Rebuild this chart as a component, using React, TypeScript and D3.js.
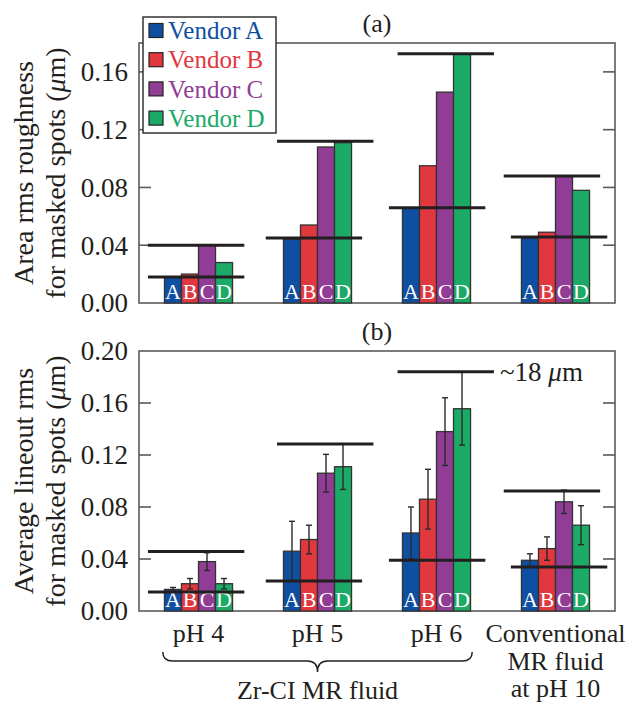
import React, { useRef, useEffect } from "react";
import * as d3 from "d3";

const groups = ["pH 4", "pH 5", "pH 6", "Conventional"];
const vendors = ["Vendor A", "Vendor B", "Vendor C", "Vendor D"];
const letters = ["A", "B", "C", "D"];
const colors = ["#0f4fa2", "#e1383f", "#913d95", "#1bab66"];

// (a) area rms roughness, one row per group, vendors A..D
const areaRms = [
  [0.018, 0.02, 0.04, 0.028],
  [0.044, 0.054, 0.108, 0.111],
  [0.066, 0.095, 0.146, 0.1725],
  [0.045, 0.049, 0.088, 0.078],
];
const areaHigh = [0.04, 0.112, 0.1725, 0.088];
const areaLow = [0.018, 0.045, 0.066, 0.0457];
const areaTicks = [0, 0.04, 0.08, 0.12, 0.16];

// (b) average lineout rms with error bars
const lineoutRms = [
  [0.0166, 0.021, 0.038, 0.021],
  [0.046, 0.055, 0.106, 0.111],
  [0.06, 0.086, 0.138, 0.1556],
  [0.039, 0.048, 0.084, 0.066],
];
const lineoutErr = [
  [0.0015, 0.004, 0.0068, 0.004],
  [0.023, 0.011, 0.0145, 0.0175],
  [0.02, 0.023, 0.026, 0.028],
  [0.005, 0.009, 0.009, 0.015],
];
const lineoutHigh = [0.0458, 0.1285, 0.184, 0.0924];
const lineoutLow = [0.0146, 0.023, 0.039, 0.0338];
const lineoutTicks = [0, 0.04, 0.08, 0.12, 0.16, 0.2];

const W = 632;
const H = 704;
const FONT = "'Liberation Serif', 'Times New Roman', serif";
const INK = "#231f20";

function App() {
  const ref = useRef<SVGSVGElement>(null);

  useEffect(() => {
    const svg = d3.select(ref.current);
    svg.selectAll("*").remove();

    const left = 139;
    const right = 615;
    const x = d3.scaleBand<number>().domain(d3.range(groups.length)).range([left, right]);
    const bw = x.bandwidth();
    const inner = d3
      .scaleBand<string>()
      .domain(letters)
      .range([bw * 0.214, bw * 0.786]);

    // threshold lines are a bit off-centre in the original
    const highShift = [-0.02, 0.065, 0.078, -0.03];
    const lowShift = [-0.02, -0.03, 0.005, 0.03];
    const lineLen = bw * 0.81;

    function panel(
      top: number,
      bottom: number,
      ymax: number,
      values: number[][],
      errs: number[][] | null,
      high: number[],
      low: number[],
      ticks: number[],
      title: string[],
      tag: string
    ) {
      const y = d3.scaleLinear().domain([0, ymax]).range([bottom, top]);
      const g = svg.append("g");

      // frame
      g.append("rect")
        .attr("x", left)
        .attr("y", top)
        .attr("width", right - left)
        .attr("height", bottom - top)
        .attr("fill", "none")
        .attr("stroke", "#5a5a5a")
        .attr("stroke-width", 1.6);

      ticks.forEach((t) => {
        if (t > 0 && y(t) > top + 2) {
          g.append("line")
            .attr("x1", left)
            .attr("x2", left + 12)
            .attr("y1", y(t))
            .attr("y2", y(t))
            .attr("stroke", "#5a5a5a")
            .attr("stroke-width", 1.6);
          g.append("line")
            .attr("x1", right - 12)
            .attr("x2", right)
            .attr("y1", y(t))
            .attr("y2", y(t))
            .attr("stroke", "#5a5a5a")
            .attr("stroke-width", 1.6);
        }
        g.append("text")
          .text(t.toFixed(2))
          .attr("x", 128)
          .attr("y", y(t))
          .attr("dy", "0.35em")
          .attr("text-anchor", "end")
          .attr("font-family", FONT)
          .attr("font-size", 27)
          .attr("fill", INK);
      });

      // bars
      values.forEach((row, gi) => {
        row.forEach((v, vi) => {
          const bx = (x(gi) as number) + (inner(letters[vi]) as number);
          g.append("rect")
            .attr("x", bx)
            .attr("y", y(v))
            .attr("width", inner.bandwidth())
            .attr("height", bottom - y(v))
            .attr("fill", colors[vi])
            .attr("stroke", "#333")
            .attr("stroke-width", 1.3);
          g.append("text")
            .text(letters[vi])
            .attr("x", bx + inner.bandwidth() / 2)
            .attr("y", bottom - 4)
            .attr("text-anchor", "middle")
            .attr("font-family", FONT)
            .attr("font-size", 22)
            .attr("fill", "#fff");
        });
      });

      // error bars
      if (errs) {
        values.forEach((row, gi) => {
          row.forEach((v, vi) => {
            const cx = (x(gi) as number) + (inner(letters[vi]) as number) + inner.bandwidth() / 2;
            const e = errs[gi][vi];
            g.append("line")
              .attr("x1", cx)
              .attr("x2", cx)
              .attr("y1", y(v + e))
              .attr("y2", y(v - e))
              .attr("stroke", "#2a2a2a")
              .attr("stroke-width", 1.4);
            [v + e, v - e].forEach((ev) => {
              g.append("line")
                .attr("x1", cx - 3)
                .attr("x2", cx + 3)
                .attr("y1", y(ev))
                .attr("y2", y(ev))
                .attr("stroke", "#2a2a2a")
                .attr("stroke-width", 1.4);
            });
          });
        });
      }

      // reference lines
      [
        { vals: high, shift: highShift },
        { vals: low, shift: lowShift },
      ].forEach(({ vals, shift }) => {
        vals.forEach((v, gi) => {
          const c = (x(gi) as number) + bw / 2 + shift[gi] * bw;
          g.append("line")
            .attr("x1", c - lineLen / 2)
            .attr("x2", c + lineLen / 2)
            .attr("y1", y(v))
            .attr("y2", y(v))
            .attr("stroke", INK)
            .attr("stroke-width", 3);
        });
      });

      // y title, two rotated lines
      const mid = (top + bottom) / 2;
      title.forEach((line, i) => {
        const t = g
          .append("text")
          .attr("transform", `translate(${23 + i * 32},${mid}) rotate(-90)`)
          .attr("dy", "0.35em")
          .attr("text-anchor", "middle")
          .attr("font-family", FONT)
          .attr("font-size", 28)
          .attr("fill", INK);
        const parts = line.split("μ");
        t.append("tspan").text(parts[0]);
        if (parts.length > 1) {
          t.append("tspan").attr("font-style", "italic").text("μ");
          t.append("tspan").text(parts[1]);
        }
      });

      g.append("text")
        .text(tag)
        .attr("x", 377)
        .attr("y", top - 20)
        .attr("dy", "0.35em")
        .attr("text-anchor", "middle")
        .attr("font-family", FONT)
        .attr("font-size", 26)
        .attr("fill", INK);

      return y;
    }

    panel(43, 303, 0.18, areaRms, null, areaHigh, areaLow, areaTicks,
      ["Area rms roughness", "for masked spots (μm)"], "(a)");
    const yB = panel(351, 611, 0.2, lineoutRms, lineoutErr, lineoutHigh, lineoutLow, lineoutTicks,
      ["Average lineout rms", "for masked spots (μm)"], "(b)");

    // "~18 µm" note next to the pH 6 high line
    const note = svg
      .append("text")
      .attr("x", 500)
      .attr("y", yB(lineoutHigh[2]))
      .attr("dy", "0.35em")
      .attr("font-family", FONT)
      .attr("font-size", 27)
      .attr("fill", INK);
    note.append("tspan").text("~18 ");
    note.append("tspan").attr("font-style", "italic").text("μ");
    note.append("tspan").text("m");

    // category labels
    groups.slice(0, 3).forEach((gname, gi) => {
      svg.append("text")
        .text(gname)
        .attr("x", (x(gi) as number) + bw / 2)
        .attr("y", 642)
        .attr("text-anchor", "middle")
        .attr("font-family", FONT)
        .attr("font-size", 26)
        .attr("fill", INK);
    });
    ["Conventional", "MR fluid", "at pH 10"].forEach((s, i) => {
      svg.append("text")
        .text(s)
        .attr("x", (x(3) as number) + bw / 2)
        .attr("y", 642 + i * 27.5)
        .attr("text-anchor", "middle")
        .attr("font-family", FONT)
        .attr("font-size", 26)
        .attr("fill", INK);
    });

    // brace under the three Zr-CI groups
    const bx0 = (x(0) as number) + bw * 0.2;
    const bx1 = (x(2) as number) + bw * 0.8;
    const bm = (bx0 + bx1) / 2;
    const by0 = 652;
    const by1 = 661;
    const by2 = 672;
    svg.append("path")
      .attr(
        "d",
        `M${bx0},${by0} Q${bx0},${by1} ${bx0 + 10},${by1} L${bm - 10},${by1} Q${bm},${by1} ${bm},${by2} ` +
          `Q${bm},${by1} ${bm + 10},${by1} L${bx1 - 10},${by1} Q${bx1},${by1} ${bx1},${by0}`
      )
      .attr("fill", "none")
      .attr("stroke", INK)
      .attr("stroke-width", 1.5);
    svg.append("text")
      .text("Zr-CI MR fluid")
      .attr("x", bm)
      .attr("y", 699)
      .attr("text-anchor", "middle")
      .attr("font-family", FONT)
      .attr("font-size", 26)
      .attr("fill", INK);

    // legend over the top-left of panel (a)
    const lg = svg.append("g");
    lg.append("rect")
      .attr("x", 143)
      .attr("y", 17)
      .attr("width", 133)
      .attr("height", 116)
      .attr("fill", "#fff")
      .attr("stroke", "#333")
      .attr("stroke-width", 1.5);
    vendors.forEach((name, i) => {
      const cy = 30.5 + i * 29.2;
      lg.append("rect")
        .attr("x", 149)
        .attr("y", cy - 7)
        .attr("width", 14)
        .attr("height", 14)
        .attr("fill", colors[i])
        .attr("stroke", "#222")
        .attr("stroke-width", 1.2);
      lg.append("text")
        .text(name)
        .attr("x", 168)
        .attr("y", cy)
        .attr("dy", "0.35em")
        .attr("font-family", FONT)
        .attr("font-size", 25)
        .attr("fill", colors[i]);
    });
  }, []);

  return (
    <div style={{ position: "absolute", left: 0, top: 0 }}>
      <svg ref={ref} width={W} height={H} style={{ display: "block", background: "#fff" }} />
    </div>
  );
}

export default App;
